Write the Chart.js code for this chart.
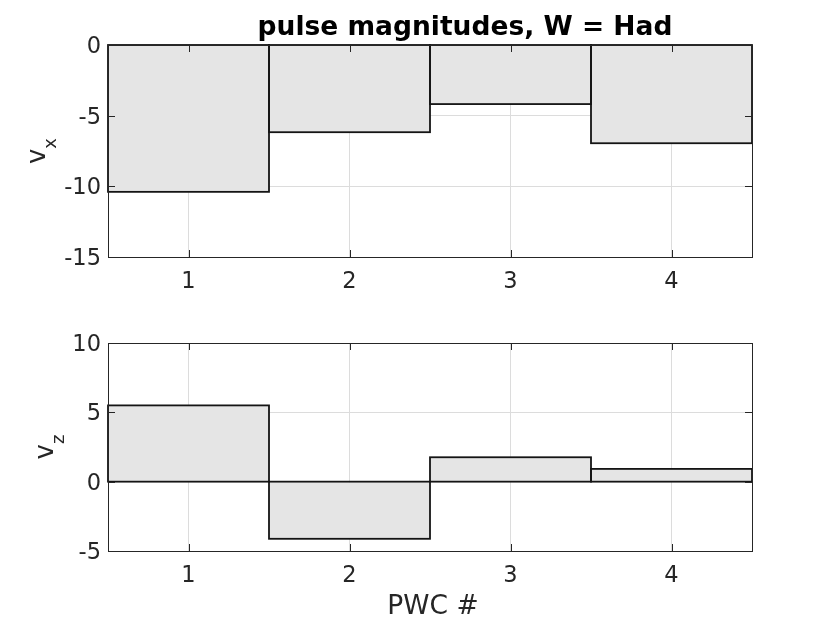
<!DOCTYPE html>
<html>
<head>
<meta charset="utf-8">
<script src="https://cdn.jsdelivr.net/npm/chart.js@4"></script>
<style>
  html, body { margin: 0; padding: 0; background: #fff; }
  #wrap { position: relative; width: 830px; height: 623px; }
  .pane { position: absolute; left: 0; }
</style>
</head>
<body>
<div id="wrap">
  <div class="pane" style="top:0;width:830px;height:300px"><canvas id="topChart"></canvas></div>
  <div class="pane" style="top:300px;width:830px;height:323px"><canvas id="botChart"></canvas></div>
</div>
<script>
const pwc = ['1', '2', '3', '4'];
const vx = [-10.39, -6.17, -4.18, -6.95];
const vz = [5.50, -4.12, 1.76, 0.92];
const vxTicks = [-15, -10, -5, 0];
const vzTicks = [-5, 0, 5, 10];

const FONT = '"DejaVu Sans", sans-serif';
const AX = '#262626';

// bar edges, box, inward ticks and the TeX-like y label, matlab style
const matlabAxes = {
    id: 'matlabAxes',
    afterDatasetsDraw(chart, args, opts) {
        const ctx = chart.ctx;
        const a = chart.chartArea;
        const xs = chart.scales.x, ys = chart.scales.y;
        ctx.save();

        // edges centred on the bar outline (chart.js puts its border inside)
        const zero = ys.getPixelForValue(0);
        ctx.strokeStyle = '#141414';
        ctx.lineWidth = 1.8;
        chart.getDatasetMeta(0).data.forEach(bar => {
            const p = bar.getProps(['x', 'y', 'width'], true);
            const top = Math.min(p.y, zero), h = Math.abs(zero - p.y);
            ctx.strokeRect(p.x - p.width / 2, top, p.width, h);
        });

        ctx.strokeStyle = AX;
        ctx.lineWidth = 1;
        ctx.beginPath();
        xs.ticks.forEach((t, i) => {
            const px = Math.round(xs.getPixelForTick(i)) + 0.5;
            ctx.moveTo(px, a.bottom); ctx.lineTo(px, a.bottom - 7);
            ctx.moveTo(px, a.top); ctx.lineTo(px, a.top + 7);
        });
        ys.ticks.forEach(t => {
            const py = Math.round(ys.getPixelForValue(t.value)) + 0.5;
            ctx.moveTo(a.left, py); ctx.lineTo(a.left + 7, py);
            ctx.moveTo(a.right, py); ctx.lineTo(a.right - 7, py);
        });
        ctx.stroke();
        ctx.strokeRect(Math.round(a.left) + 0.5, Math.round(a.top) + 0.5,
            Math.round(a.right - a.left), Math.round(a.bottom - a.top));

        // y label: v with subscript
        const cy = (a.top + a.bottom) / 2;
        ctx.translate(opts.labelX, cy);
        ctx.rotate(-Math.PI / 2);
        ctx.fillStyle = AX;
        ctx.textBaseline = 'alphabetic';
        ctx.font = '26px ' + FONT;
        const w1 = ctx.measureText('v').width;
        ctx.font = '18px ' + FONT;
        const w2 = ctx.measureText(opts.sub).width;
        const x0 = -(w1 + w2) / 2;
        ctx.font = '26px ' + FONT;
        ctx.fillText('v', x0, 0);
        ctx.font = '18px ' + FONT;
        ctx.fillText(opts.sub, x0 + w1, 11);
        ctx.restore();

        if (opts.title) {
            ctx.save();
            ctx.fillStyle = '#000';
            ctx.font = 'bold 26.5px ' + FONT;
            ctx.textAlign = 'center';
            ctx.textBaseline = 'alphabetic';
            ctx.fillText(opts.title, 465, 35);
            ctx.restore();
        }
        if (opts.xlabel) {
            ctx.save();
            ctx.fillStyle = AX;
            ctx.font = '26.5px ' + FONT;
            ctx.textAlign = 'center';
            ctx.textBaseline = 'middle';
            ctx.fillText(opts.xlabel, 433, 307);
            ctx.restore();
        }
    }
};

function makeChart(id, values, yTicks, h, top, bottom, yWidth, extra) {
    return new Chart(document.getElementById(id), {
        type: 'bar',
        data: {
            labels: pwc,
            datasets: [{
                data: values,
                backgroundColor: '#e5e5e5',
                borderWidth: 0,
                inflateAmount: 0,
                barPercentage: 1,
                categoryPercentage: 1
            }]
        },
        options: {
            responsive: false,
            animation: false,
            devicePixelRatio: 1,
            layout: { padding: { left: 108 - yWidth, right: 78, top: top, bottom: 0 } },
            plugins: {
                legend: { display: false },
                tooltip: { enabled: false },
                matlabAxes: extra
            },
            scales: {
                x: {
                    offset: true,
                    grid: { offset: false, color: '#dcdcdc', drawTicks: false },
                    border: { display: false },
                    ticks: { color: AX, font: { family: FONT, size: 22.5 }, padding: 12 },
                    afterFit: s => { s.height = h - bottom; }
                },
                y: {
                    min: yTicks[0],
                    max: yTicks[yTicks.length - 1],
                    afterBuildTicks: s => { s.ticks = yTicks.map(v => ({ value: v })); },
                    grid: { color: '#dcdcdc', drawTicks: false },
                    border: { display: false },
                    ticks: { color: AX, font: { family: FONT, size: 22.5 }, padding: 7, labelOffset: 2 },
                    afterFit: s => { s.width = yWidth; }
                }
            }
        },
        plugins: [matlabAxes]
    });
}

function sizeCanvas(id, w, h) {
    const c = document.getElementById(id);
    c.width = w; c.height = h;
    c.style.width = w + 'px'; c.style.height = h + 'px';
}

sizeCanvas('topChart', 830, 300);
sizeCanvas('botChart', 830, 323);

makeChart('topChart', vx, vxTicks, 300, 45, 257, 108,
    { labelX: 45, sub: 'x', title: 'pulse magnitudes, W = Had' });
makeChart('botChart', vz, vzTicks, 323, 43, 251, 108,
    { labelX: 53, sub: 'z', xlabel: 'PWC #' });
</script>
</body>
</html>
